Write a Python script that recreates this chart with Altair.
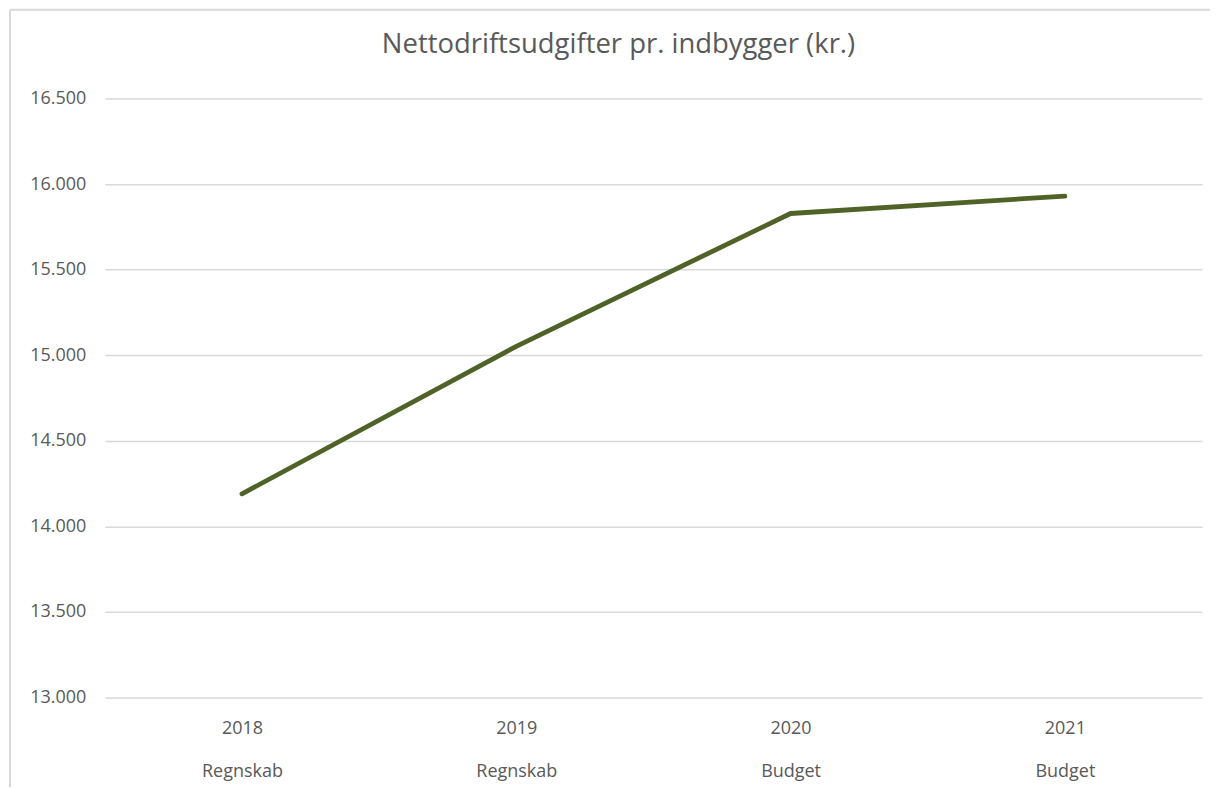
import altair as alt
import pandas as pd

years = ["2018", "2019", "2020", "2021"]
kinds = ["Regnskab", "Regnskab", "Budget", "Budget"]
values = [14190, 15052, 15828, 15930]
y_ticks = [13000, 13500, 14000, 14500, 15000, 15500, 16000, 16500]

df = pd.DataFrame({
    "label": [f"{y}|{k}" for y, k in zip(years, kinds)],
    "value": values,
})

FONT = "Open Sans"
GRAY = "#595959"
LABEL_SIZE = 18

line = alt.Chart(df).mark_line(color="#4f6228", strokeWidth=4.8, strokeCap="round", strokeJoin="round").encode(
    x=alt.X("label:N", sort=None, title=None,
            scale=alt.Scale(paddingInner=0, paddingOuter=0.5),
            axis=alt.Axis(labelExpr="split(datum.label, '|')", labelAngle=0,
                          labelLineHeight=43, labelPadding=22, labelFontSize=LABEL_SIZE,
                          labelColor=GRAY, labelFont=FONT, domain=False, ticks=False,
                          grid=False, labelBaseline="top")),
    y=alt.Y("value:Q", title=None,
            scale=alt.Scale(domain=[13000, 16500], nice=False, zero=False),
            axis=alt.Axis(values=y_ticks, format=",.0f", labelFontSize=LABEL_SIZE,
                          labelColor=GRAY, labelFont=FONT, labelPadding=19,
                          domain=False, ticks=False, gridColor="#d9d9d9",
                          gridWidth=1.5)),
)

border = alt.Chart(pd.DataFrame({"a": [0]})).mark_rule(color="#d9d9d9", strokeWidth=2, clip=False)
left_border = border.encode(x=alt.value(-95), y=alt.value(-89), y2=alt.value(690))
top_border = border.encode(x=alt.value(-95), x2=alt.value(1113), y=alt.value(-89))

chart = alt.layer(left_border, top_border, line).properties(
    width=1099, height=600,
    autosize=alt.AutoSizeParams(type="none"),
    padding={"left": 97, "top": 90, "right": 8, "bottom": 90},
    title=alt.TitleParams("Nettodriftsudgifter pr. indbygger (kr.)", fontSize=27.5,
                          font=FONT, fontWeight="normal", color=GRAY,
                          anchor="middle", dx=-35, offset=-50),
).configure(
    locale={"number": {"decimal": ",", "thousands": ".", "grouping": [3], "currency": ["", " kr."]}},
    view={"stroke": None},
)

chart.save("out.html", embed_options={"renderer": "svg", "actions": False})
